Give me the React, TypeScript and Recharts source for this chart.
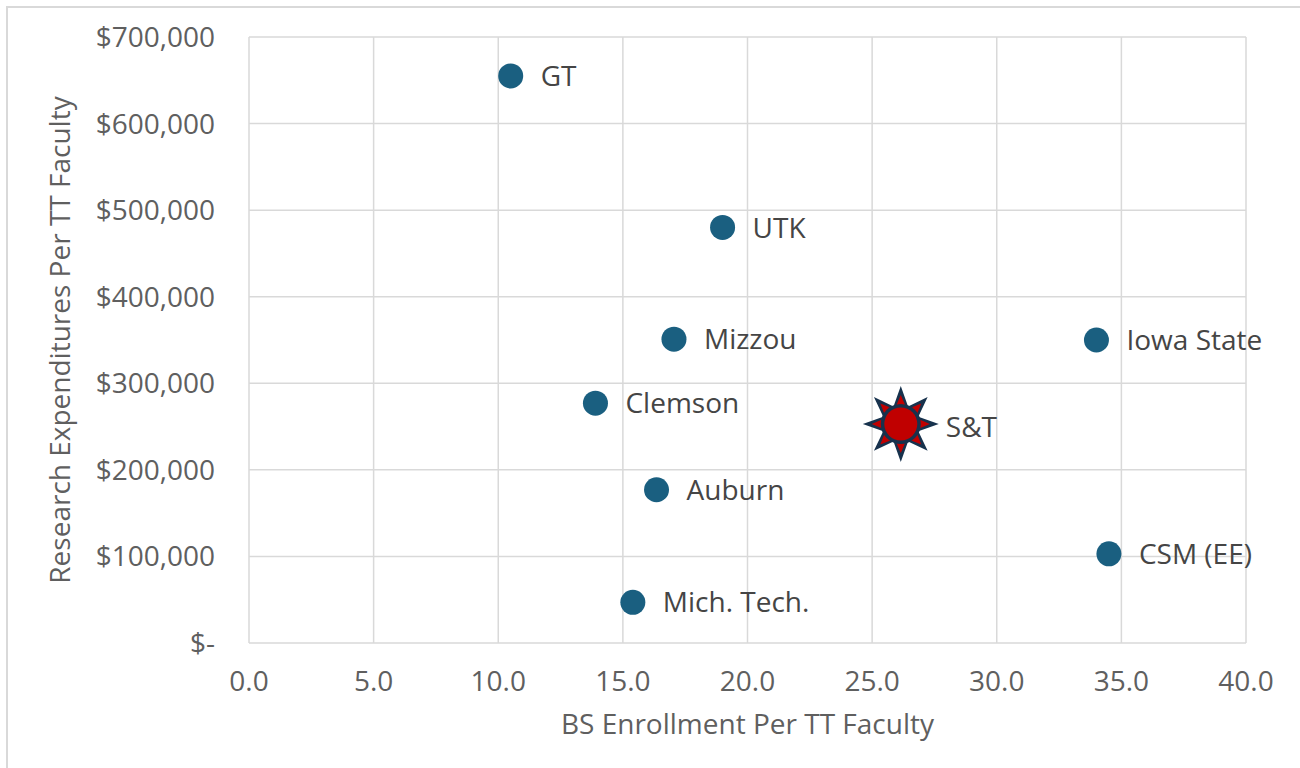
import { ScatterChart, Scatter, XAxis, YAxis, CartesianGrid } from 'recharts';

const schools = ['GT', 'UTK', 'Mizzou', 'Iowa State', 'Clemson', 'Auburn', 'CSM (EE)', 'Mich. Tech.'];
const enrollment = [10.5, 19.0, 17.05, 34.0, 13.9, 16.35, 34.5, 15.4];
const expenditures = [655000, 480000, 351000, 350000, 277000, 177000, 103000, 47000];

const highlightName = 'S&T';
const highlightEnrollment = 26.15;
const highlightExpenditure = 253000;

const xTicks = [0, 5, 10, 15, 20, 25, 30, 35, 40];
const yTicks = [0, 100000, 200000, 300000, 400000, 500000, 600000, 700000];

const FONT = '"Open Sans", "Liberation Sans", sans-serif';
const TICK = { fill: '#5f5f5f', fontSize: 28, fontFamily: FONT };

const peers = schools.map((name, i) => ({ name, x: enrollment[i], y: expenditures[i] }));
const highlight = [{ name: highlightName, x: highlightEnrollment, y: highlightExpenditure }];

const fmtMoney = (v: number) => (v === 0 ? '$-' : '$' + v.toLocaleString('en-US'));

function Dot(p: any) {
  const { cx, cy, payload } = p;
  return (
    <g>
      <circle cx={cx} cy={cy} r={12.5} fill="#1a5f80" />
      <text x={cx + 30} y={cy} dy="0.36em" fill="#454545" fontSize={28} fontFamily={FONT}>
        {payload.name}
      </text>
    </g>
  );
}

function starPoints(cx: number, cy: number, outer: number, inner: number, n = 8) {
  const pts: string[] = [];
  for (let i = 0; i < n * 2; i++) {
    const r = i % 2 === 0 ? outer : inner;
    const a = (Math.PI * i) / n - Math.PI / 2;
    pts.push(`${cx + r * Math.cos(a)},${cy + r * Math.sin(a)}`);
  }
  return pts.join(' ');
}

function Star(p: any) {
  const { cx, cy, payload } = p;
  return (
    <g>
      <polygon points={starPoints(cx, cy, 38, 19)} fill="#17324d" />
      <polygon points={starPoints(cx, cy, 29, 16)} fill="#c00000" />
      <circle cx={cx} cy={cy} r={20} fill="#17324d" />
      <circle cx={cx} cy={cy} r={16.5} fill="#c00000" />
      <text x={cx + 45} y={cy + 3} dy="0.36em" fill="#454545" fontSize={28} fontFamily={FONT}>
        {payload.name}
      </text>
    </g>
  );
}

export default function App() {
  return (
    <div style={{ position: 'absolute', left: 0, top: 0, width: 1300, height: 768, background: '#fff' }}>
      <div style={{ position: 'absolute', left: 6, top: 6, right: 0, bottom: 0, borderLeft: '2px solid #d9d9d9', borderTop: '2px solid #d9d9d9' }} />
      <ScatterChart width={1300} height={768} margin={{ top: 37, right: 54, bottom: 0, left: 0 }}>
        <CartesianGrid stroke="#d9d9d9" strokeWidth={1.5} horizontalValues={yTicks} verticalValues={xTicks} />
        <XAxis
          type="number" dataKey="x" domain={[0, 40]} ticks={xTicks} interval={0}
          tickFormatter={(v: number) => v.toFixed(1)}
          axisLine={false} tickLine={false} tickSize={0} tickMargin={28}
          tick={TICK} height={125}
          label={{ value: 'BS Enrollment Per TT Faculty', position: 'insideBottom', offset: 34, fill: '#5f5f5f', fontSize: 28, fontFamily: FONT }}
        />
        <YAxis
          type="number" dataKey="y" domain={[0, 700000]} ticks={yTicks} interval={0}
          tickFormatter={fmtMoney}
          axisLine={false} tickLine={false} tickSize={0} tickMargin={34}
          tick={TICK} width={249}
          label={{ value: 'Research Expenditures Per TT Faculty', angle: -90, position: 'insideLeft', offset: 60, fill: '#5f5f5f', fontSize: 28, fontFamily: FONT, style: { textAnchor: 'middle' } }}
        />
        <Scatter data={peers} shape={Dot} isAnimationActive={false} />
        <Scatter data={highlight} shape={Star} isAnimationActive={false} />
      </ScatterChart>
    </div>
  );
}
